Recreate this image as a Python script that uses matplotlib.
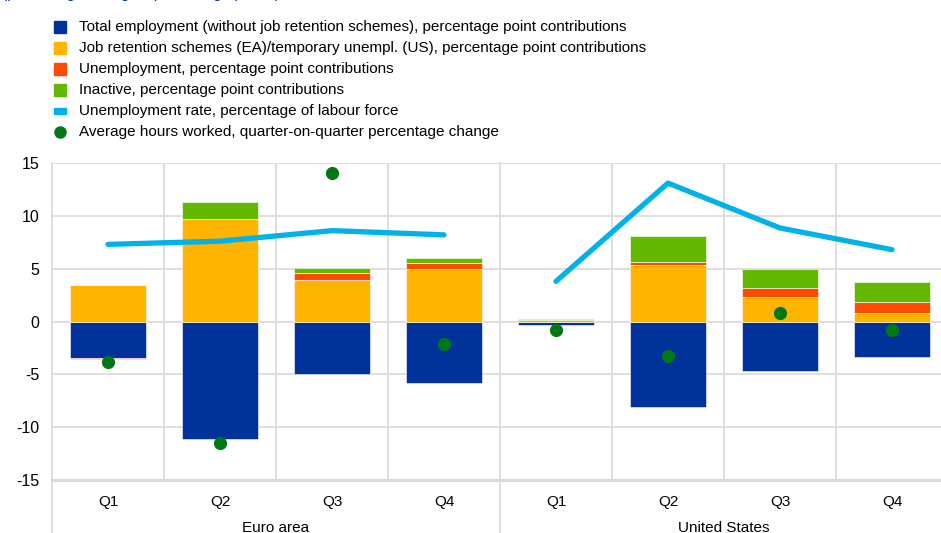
import matplotlib
matplotlib.use("Agg")
import matplotlib.pyplot as plt
from matplotlib.patches import Rectangle
from matplotlib.lines import Line2D
import numpy as np

plt.rcParams['font.family'] = ['Liberation Sans', 'DejaVu Sans']

quarters = ["Q1", "Q2", "Q3", "Q4", "Q1", "Q2", "Q3", "Q4"]
groups = ["Euro area", "United States"]
employment = [-3.5, -11.1, -5.0, -5.8, -0.3, -8.1, -4.7, -3.4]
job_retention = [3.5, 9.7, 3.9, 5.0, 0.15, 5.35, 2.3, 0.8]
unemployment = [-0.05, 0.0, 0.7, 0.5, 0.0, 0.3, 0.9, 1.0]
inactive = [0.0, 1.6, 0.5, 0.5, 0.05, 2.45, 1.75, 1.9]
unemp_rate_ea = [7.3, 7.6, 8.6, 8.2]
unemp_rate_us = [3.8, 13.1, 8.85, 6.8]
hours = [-3.8, -11.5, 14.1, -2.1, -0.8, -3.3, 0.85, -0.8]

labels = [
    "Total employment (without job retention schemes), percentage point contributions",
    "Job retention schemes (EA)/temporary unempl. (US), percentage point contributions",
    "Unemployment, percentage point contributions",
    "Inactive, percentage point contributions",
    "Unemployment rate, percentage of labour force",
    "Average hours worked, quarter-on-quarter percentage change",
]
colors = ["#003299", "#FFB400", "#FF4B00", "#65B800"]
line_color = "#00B1EA"
dot_color = "#007816"
grid_color = "#D9D9D9"

W, H = 941, 533
fig = plt.figure(figsize=(W / 100, H / 100), dpi=100)

x0, x1 = 52, 948
ytop, ybot = 163, 480
ax = fig.add_axes([x0 / W, 1 - ybot / H, (x1 - x0) / W, (ybot - ytop) / H])
ax.set_xlim(-0.5, 7.5)
ax.set_ylim(-15, 15)

x = np.arange(len(quarters))
bw = 0.67
series = [employment, job_retention, unemployment, inactive]
pos_base = np.zeros(len(x))
neg_base = np.zeros(len(x))
for vals, c in zip(series, colors):
    v = np.array(vals, dtype=float)
    base = np.where(v >= 0, pos_base, neg_base)
    ax.bar(x, v, bw, bottom=base, color=c, edgecolor="white", linewidth=0.4, zorder=3)
    pos_base = pos_base + np.where(v > 0, v, 0)
    neg_base = neg_base + np.where(v < 0, v, 0)

ax.plot(x[:4], unemp_rate_ea, color=line_color, lw=3.8, solid_capstyle="round", zorder=4)
ax.plot(x[4:], unemp_rate_us, color=line_color, lw=3.8, solid_capstyle="round", zorder=4)
ax.plot(x, hours, "o", color=dot_color, ms=9.5, zorder=5, markeredgewidth=0)

# grid
for yv in [15, 10, 5, 0, -5, -10]:
    ax.axhline(yv, color=grid_color, lw=1.2, zorder=1)
ax.axhline(-15, color=grid_color, lw=2.2, zorder=1, clip_on=False)
for b in np.arange(0.5, 7.5, 1.0):
    if abs(b - 3.5) < 1e-9:
        continue
    ax.axvline(b, color=grid_color, lw=1.2, zorder=1)
# group separators extending below
ext = -(H - ybot) / (ybot - ytop)
for b in [-0.5, 3.5]:
    ax.add_line(Line2D([b, b], [ext, 1], transform=ax.get_xaxis_transform(),
                       color=grid_color, lw=1.2, clip_on=False, zorder=1))

for s in ax.spines.values():
    s.set_visible(False)
ax.set_yticks([15, 10, 5, 0, -5, -10, -15])
ax.set_yticklabels(["15", "10", "5", "0", "-5", "-10", "-15"])
ax.tick_params(axis="y", length=0, labelsize=11.5, pad=9, colors="#000000")
ax.set_xticks(x)
ax.set_xticklabels(quarters)
ax.tick_params(axis="x", length=0, labelsize=11, pad=11)

# group labels (partly cut at the bottom edge, as in the reference)
for gi, g in enumerate(groups):
    cx = 1.5 + 4 * gi
    ax.text(cx, -15 - (528 - ybot) * 30 / (ybot - ytop), g, ha="center", va="center",
            fontsize=11, clip_on=False)

# top subtitle, cut off at the top edge as in the reference
fig.text(2 / W, 1 + 6 / H, "(percentage changes; percentage points)", color="#003299",
         fontsize=11, ha="left", va="center")

# legend
rows = [27, 48, 69, 90, 111, 132]
for i, (lab, yy) in enumerate(zip(labels, rows)):
    fy = 1 - yy / H
    if i < 4:
        fig.add_artist(Rectangle((54 / W, 1 - (yy + 6) / H), 12 / W, 12 / H,
                                 transform=fig.transFigure, color=colors[i]))
    elif i == 4:
        fig.add_artist(Rectangle((54 / W, 1 - (yy + 2.5) / H), 12 / W, 5 / H,
                                 transform=fig.transFigure, color=line_color))
    else:
        fig.add_artist(Line2D([60 / W], [fy], transform=fig.transFigure, marker="o",
                              ms=9, color=dot_color, markeredgewidth=0))
    fig.text(79 / W, fy, lab, fontsize=11, ha="left", va="center")

fig.savefig("out.png", dpi=100)
